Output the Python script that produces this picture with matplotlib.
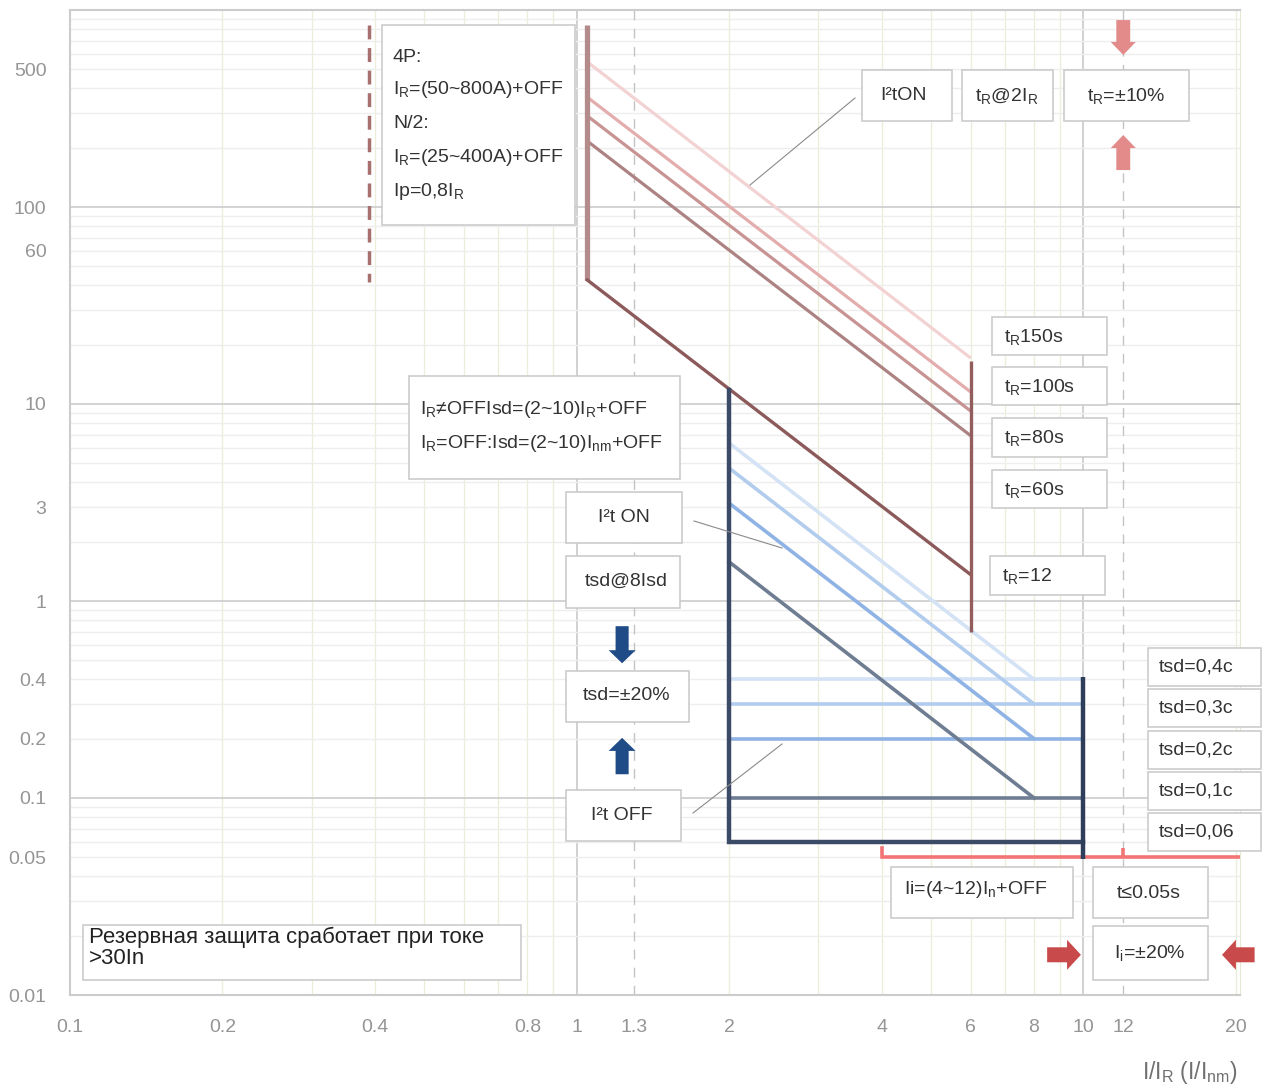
import matplotlib
matplotlib.use('Agg')
import matplotlib.pyplot as plt
from matplotlib.patches import Rectangle
from matplotlib.lines import Line2D
from matplotlib.ticker import NullLocator
from matplotlib import font_manager

plt.rcParams['font.family'] = ['Liberation Sans', 'DejaVu Sans']
plt.rcParams['mathtext.fontset'] = 'custom'
plt.rcParams['mathtext.rm'] = 'Liberation Sans'
plt.rcParams['mathtext.it'] = 'Liberation Sans:italic'

#####DATA#####
x_ticks = [0.1, 0.2, 0.4, 0.8, 1, 1.3, 2, 4, 6, 8, 10, 12, 20]
x_ticklabels = ['0.1', '0.2', '0.4', '0.8', '1', '1.3', '2', '4', '6', '8', '10', '12', '20']
y_ticks = [0.01, 0.05, 0.1, 0.2, 0.4, 1, 3, 10, 60, 100, 500]
y_ticklabels = ['0.01', '0.05', '0.1', '0.2', '0.4', '1', '3', '10', '60', '100', '500']

# long time delay (brown), tR = 150/100/80/60 s
lt_tr = [150, 100, 80, 60]
lt_x = [1.05, 6.0]
lt_y_start = [545, 361, 290, 216]
lt_y_end = [17.1, 11.5, 9.2, 6.9]
lt_vert_x = [1.05, 1.05]
lt_vert_y = [840, 42.6]
lt12_x = [1.05, 6.0]
lt12_y = [42.6, 1.36]
lt_bar_x = [6.0, 6.0]
lt_bar_y = [16.5, 0.70]
backup_x = [0.39, 0.39]
backup_y = [840, 41.6]

# short time delay (blue), tsd = 0.4/0.3/0.2/0.1 s
st_tsd = [0.4, 0.3, 0.2, 0.1]
st_x = [2, 8]
st_y_start = [6.34, 4.73, 3.14, 1.58]
st_flat_x = [2, 10]
st_frame_x = [2, 2, 10]
st_frame_y = [11.8, 0.06, 0.06]
st_bar_x = [10, 10]
st_bar_y = [0.41, 0.049]

# instantaneous (red)
inst_x = [4, 4, 20.4]
inst_y = [0.056, 0.05, 0.05]
inst_tick_x = [12, 12]
inst_tick_y = [0.056, 0.05]

ref_x = [1.3, 12]

#####STYLE#####
lt_colors = ['#f2d2d2', '#e4adad', '#c89393', '#ad8282']
st_colors = ['#d3e2f5', '#b2ccee', '#8fb3e4', '#6e7d91']

W, H = 1262, 1090
fig = plt.figure(figsize=(W / 100, H / 100), dpi=100)
ax = fig.add_axes([70 / W, (H - 995) / H, (1240 - 70) / W, (995 - 10) / H])
ax.set_xscale('log')
ax.set_yscale('log')
ax.set_xlim(0.1, 20.4)
ax.set_ylim(0.01, 1000)

# grid drawn by hand (light minor, grey decades)
for e in range(-1, 2):
    for m in range(1, 10):
        v = m * 10.0 ** e
        if 0.1 < v < 20.4:
            ax.axvline(v, color='#c9c9c9' if m == 1 else '#eceedb', lw=1.2 if m == 1 else 1, zorder=0.5)
for e in range(-2, 3):
    for m in range(1, 10):
        v = m * 10.0 ** e
        if 0.01 < v < 1000:
            ax.axhline(v, color='#cccccc' if m == 1 else '#eeeeee', lw=1.2 if m == 1 else 1, zorder=0.5)
for xv in ref_x:
    ax.axvline(xv, color='#c4c4c4', lw=1, ls=(0, (7, 6)), zorder=0.6)

for s in ['left', 'bottom', 'top']:
    ax.spines[s].set_color('#cccccc')
    ax.spines[s].set_linewidth(1.5)
ax.spines['right'].set_color('#e6e8d6')

ax.set_xticks(x_ticks)
ax.set_xticklabels(x_ticklabels)
ax.set_yticks(y_ticks)
ax.set_yticklabels(y_ticklabels)
ax.xaxis.set_minor_locator(NullLocator())
ax.yaxis.set_minor_locator(NullLocator())
ax.tick_params(length=0, labelsize=14, labelcolor='#959595')
ax.tick_params(axis='x', pad=17)
ax.tick_params(axis='y', pad=17)

# long time curves
ax.plot(backup_x, backup_y, color='#a86f6f', lw=2.5, ls=(0, (4, 2.5)), zorder=2)
for y0, y1, c in zip(lt_y_start, lt_y_end, lt_colors):
    ax.plot(lt_x, [y0, y1], color=c, lw=2.3, solid_capstyle='butt', zorder=2)
ax.plot(lt_vert_x, lt_vert_y, color='#b38b8b', lw=3.8, solid_capstyle='butt', zorder=3)
ax.plot(lt12_x, lt12_y, color='#8c5a5a', lw=2.4, zorder=3)
ax.plot(lt_bar_x, lt_bar_y, color='#935d5d', lw=2.4, solid_capstyle='butt', zorder=3)

# short time curves
for y0, lvl, c in zip(st_y_start, st_tsd, st_colors):
    ax.plot(st_x, [y0, lvl], color=c, lw=2.6, zorder=2)
    ax.plot(st_flat_x, [lvl, lvl], color=c, lw=2.6, zorder=2)
ax.plot(st_frame_x, st_frame_y, color='#3b4a66', lw=3.2, solid_joinstyle='miter', zorder=4)
ax.plot(st_bar_x, st_bar_y, color='#2e3d5a', lw=3.2, solid_capstyle='butt', zorder=4)

# instantaneous
ax.plot(inst_x, inst_y, color='#f27474', lw=2.6, solid_joinstyle='miter', zorder=3)
ax.plot(inst_tick_x, inst_tick_y, color='#f27474', lw=2.6, solid_capstyle='butt', zorder=3)


def arrow(tail, tip, color, shaft, head_w, head_l):
    ax.annotate('', xy=tip, xytext=tail, annotation_clip=False,
                arrowprops=dict(arrowstyle='simple,head_length=%s,head_width=%s,tail_width=%s' % (head_l, head_w, shaft),
                                fc=color, ec='none', mutation_scale=20, shrinkA=0, shrinkB=0))


arrow((12, 889), (12, 591), '#e38b8b', 0.5, 0.9, 0.47)
arrow((12, 154), (12, 232), '#e38b8b', 0.5, 0.9, 0.47)
arrow((1.23, 0.745), (1.23, 0.483), '#1f4b86', 0.47, 0.97, 0.47)
arrow((1.23, 0.132), (1.23, 0.202), '#1f4b86', 0.47, 0.97, 0.47)
arrow((8.49, 0.016), (9.9, 0.016), '#c94a4a', 0.54, 1.08, 0.5)
arrow((21.8, 0.016), (18.8, 0.016), '#c94a4a', 0.54, 1.08, 0.5)

# leader lines (pixel layout)
for (xa, ya), (xb, yb) in [((750, 185), (855, 98)), ((694, 521), (782, 548)), ((693, 813), (782, 744))]:
    fig.add_artist(Line2D([xa / W, xb / W], [1 - ya / H, 1 - yb / H], color='#8a8a8a', lw=0.8, zorder=4))

R = r'$_\mathregular{R}$'
# (x0, y0, x1, y1, text, tx, ty, ha)
boxes = [
    (382, 25, 575, 225, None, 0, 0, 'left'),
    (862, 70, 952, 121, 'I²tON', 903, 95, 'center'),
    (962, 70, 1053, 121, 't' + R + '@2I' + R, 1007, 96, 'center'),
    (1064, 70, 1189, 121, 't' + R + '=±10%', 1126, 96, 'center'),
    (992, 317, 1107, 355, 't' + R + '150s', 1004, 337, 'left'),
    (992, 367, 1107, 405, 't' + R + '=100s', 1004, 387, 'left'),
    (992, 418, 1107, 457, 't' + R + '=80s', 1004, 438, 'left'),
    (992, 470, 1107, 508, 't' + R + '=60s', 1004, 490, 'left'),
    (990, 556, 1105, 595, 't' + R + '=12', 1002, 576, 'left'),
    (409, 376, 680, 479, None, 0, 0, 'left'),
    (566, 492, 682, 543, 'I²t ON', 624, 517, 'center'),
    (566, 556, 680, 608, 'tsd@8Isd', 626, 581, 'center'),
    (566, 671, 689, 722, 'tsd=±20%', 627, 696, 'center'),
    (566, 790, 681, 841, 'I²t OFF', 622, 815, 'center'),
    (1148, 648, 1261, 686, 'tsd=0,4c', 1159, 667, 'left'),
    (1148, 689, 1261, 727, 'tsd=0,3c', 1159, 708, 'left'),
    (1148, 731, 1261, 769, 'tsd=0,2c', 1159, 750, 'left'),
    (1148, 772, 1261, 810, 'tsd=0,1c', 1159, 791, 'left'),
    (1148, 813, 1261, 851, 'tsd=0,06', 1159, 832, 'left'),
    (891, 867, 1073, 918, r'Ii=(4~12)I$_\mathregular{n}$+OFF', 904, 889, 'left'),
    (1093, 867, 1208, 918, 't≤0.05s', 1149, 893, 'center'),
    (1093, 926, 1208, 980, r'I$_\mathregular{i}$=±20%', 1150, 953, 'center'),
    (83, 925, 521, 980, None, 0, 0, 'left'),
]
for x0, y0, x1, y1, txt, tx, ty, ha in boxes:
    fig.add_artist(Rectangle((x0 / W, 1 - y1 / H), (x1 - x0) / W, (y1 - y0) / H, fc='white', ec='#c8c8c8',
                             lw=1.1, zorder=5, clip_on=False))
    if txt:
        fig.text(tx / W, 1 - ty / H, txt, ha=ha, va='center', fontsize=14, color='#333333', zorder=6)

for txt, ty in zip(['4P:', 'I' + R + '=(50~800A)+OFF', 'N/2:', 'I' + R + '=(25~400A)+OFF', 'Ip=0,8I' + R],
                   [57, 90, 124, 157, 191]):
    fig.text(393 / W, 1 - ty / H, txt, ha='left', va='center', fontsize=14, color='#333333', zorder=6)
for txt, ty in zip(['I' + R + '≠OFFIsd=(2~10)I' + R + '+OFF', 'I' + R + r'=OFF:Isd=(2~10)I$_\mathregular{nm}$+OFF'],
                   [410, 444]):
    fig.text(420 / W, 1 - ty / H, txt, ha='left', va='center', fontsize=14, color='#333333', zorder=6)

names = {f.name for f in font_manager.fontManager.ttflist}
narrow = 'Liberation Sans Narrow' if 'Liberation Sans Narrow' in names else 'Liberation Sans'
fig.text(89 / W, 1 - 948 / H, 'Резервная защита сработает при токе\n>30In', ha='left', va='center',
         fontsize=16, family=[narrow, 'DejaVu Sans'], color='#222222', linespacing=1.0, zorder=6)

fig.text(1238 / W, 1 - 1073 / H, r'I/I$_\mathregular{R}$ (I/I$_\mathregular{nm}$)', ha='right', va='center',
         fontsize=16.5, color='#707070')

plt.savefig('out.png', dpi=100)
plt.close()
